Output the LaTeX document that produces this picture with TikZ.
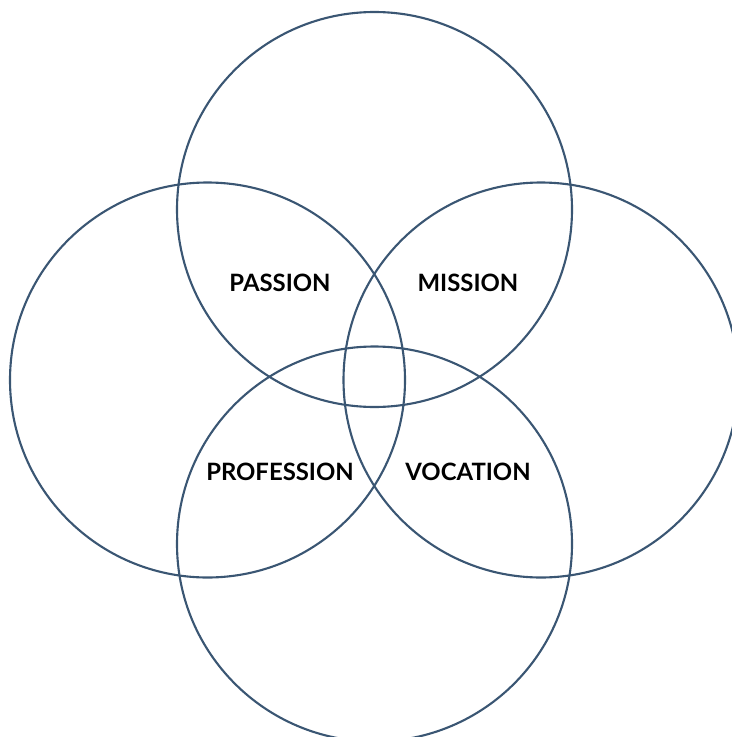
\documentclass[tikz,border=0pt]{standalone}
\usepackage{fontspec}
\setmainfont{Lato}
\definecolor{ringblue}{HTML}{3A5673}
\begin{document}
\begin{tikzpicture}[x=0.02cm,y=-0.02cm]
\tikzset{ring/.style={line width=1.2pt, ringblue}, lbl/.style={font=\bfseries\fontsize{13.6}{16}\selectfont, text=black}}
\useasboundingbox (0,0) rectangle (732,737);
\clip (0,0) rectangle (732,737);

% Circles

\draw [ring] (374.5,209.5) circle (197.5);
\draw [ring] (207.5,380) circle (197.5);
\draw [ring] (541,380) circle (197.5);
\draw [ring] (374.5,544) circle (197.5);

%Labels
\node [lbl] (passion) at (280,283) {PASSION};
\node [lbl] (mission) at (468,283) {MISSION};
\node [lbl] (profession) at (280,472) {PROFESSION};
\node [lbl] (vocation) at (468,472) {VOCATION};
\end{tikzpicture}
\end{document}
